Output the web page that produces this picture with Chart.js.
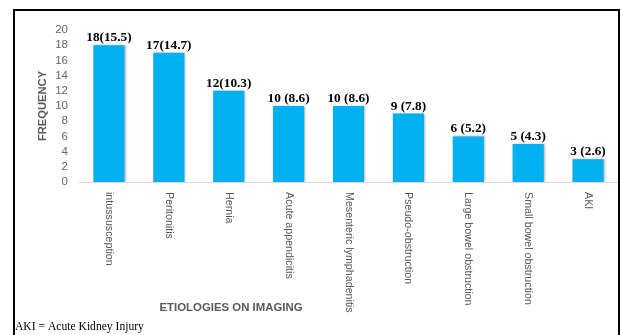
<!DOCTYPE html>
<html>
<head>
<meta charset="utf-8">
<script src="https://cdn.jsdelivr.net/npm/chart.js@4.4.1/dist/chart.umd.min.js"></script>
<style>
html,body{margin:0;padding:0;background:#fff;}
#wrap{width:621px;height:335px;position:relative;}
</style>
</head>
<body>
<div id="wrap"><canvas id="c" width="621" height="335"></canvas></div>
<script>
const categories = ['intussusception','Peritonitis','Hernia','Acute appendicitis','Mesenteric lymphadenitis','Pseudo-obstruction','Large bowel obstruction','Small bowel obstruction','AKI'];
const frequencies = [18,17,12,10,10,9,6,5,3];
const valueLabels = ['18(15.5)','17(14.7)','12(10.3)','10 (8.6)','10 (8.6)','9 (7.8)','6 (5.2)','5 (4.3)','3 (2.6)'];
const yMin = 0, yMax = 20, yStep = 2;
const yTitle = 'FREQUENCY';
const xTitle = 'ETIOLOGIES ON IMAGING';
const footnote = 'AKI = Acute Kidney Injury';

const decor = {
  id: 'decor',
  beforeDraw(chart) {
    const ctx = chart.ctx;
    ctx.save();
    ctx.fillStyle = '#fff';
    ctx.fillRect(0, 0, chart.width, chart.height);
    ctx.restore();
  },
  beforeDatasetDraw(chart) {
    const ctx = chart.ctx;
    ctx.save();
    ctx.shadowColor = 'rgba(0,0,0,0.28)';
    ctx.shadowBlur = 2;
    ctx.shadowOffsetX = 1;
    ctx.shadowOffsetY = 0;
  },
  afterDatasetDraw(chart) {
    chart.ctx.restore();
  },
  afterDraw(chart) {
    const ctx = chart.ctx;
    const xs = chart.scales.x, ys = chart.scales.y;
    const area = chart.chartArea;
    ctx.save();
    // value labels
    ctx.fillStyle = '#000';
    ctx.font = 'bold 13.3px "Liberation Serif", "Times New Roman", serif';
    ctx.textAlign = 'center';
    ctx.textBaseline = 'alphabetic';
    frequencies.forEach((v, i) => {
      ctx.fillText(valueLabels[i], xs.getPixelForValue(i), ys.getPixelForValue(v) - 4);
    });
    // category labels, rotated clockwise
    ctx.fillStyle = '#595959';
    ctx.font = '10.7px "Liberation Sans", Arial, sans-serif';
    ctx.textAlign = 'left';
    ctx.textBaseline = 'middle';
    categories.forEach((c, i) => {
      ctx.save();
      ctx.translate(xs.getPixelForValue(i), area.bottom + 10);
      ctx.rotate(Math.PI / 2);
      ctx.fillText(c, 0, 0);
      ctx.restore();
    });
    // x title
    ctx.font = 'bold 11.4px "Liberation Sans", Arial, sans-serif';
    ctx.textAlign = 'center';
    ctx.fillText(xTitle, 231, 308);
    // footnote
    ctx.fillStyle = '#000';
    ctx.font = '11.6px "Liberation Serif", "Times New Roman", serif';
    ctx.textAlign = 'left';
    ctx.fillText(footnote, 15, 327);
    // border
    ctx.strokeStyle = '#000';
    ctx.lineWidth = 2;
    ctx.strokeRect(14, 10, 605, 340);
    ctx.restore();
  }
};

new Chart(document.getElementById('c'), {
  type: 'bar',
  data: {
    labels: categories,
    datasets: [{
      data: frequencies,
      backgroundColor: '#00b0f0',
      borderWidth: 0,
      barPercentage: 0.52,
      categoryPercentage: 1.0
    }]
  },
  options: {
    responsive: false,
    animation: false,
    devicePixelRatio: 1,
    layout: { padding: { left: 32, top: 30, right: 3, bottom: 153 } },
    plugins: { legend: { display: false }, tooltip: { enabled: false } },
    scales: {
      x: {
        grid: { display: false, drawTicks: false },
        border: { display: true, color: '#d9d9d9', width: 1 },
        ticks: { display: false },
        afterFit(s) { s.height = 0; }
      },
      y: {
        min: yMin, max: yMax,
        grid: { display: false, drawTicks: false },
        border: { display: false },
        ticks: {
          stepSize: yStep,
          autoSkip: false,
          padding: 11,
          color: '#666',
          font: { family: '"Liberation Sans", Arial, sans-serif', size: 11.5 }
        },
        title: {
          display: true,
          text: yTitle,
          color: '#595959',
          font: { family: '"Liberation Sans", Arial, sans-serif', size: 11.2, weight: 'bold' }
        },
        afterFit(s) { s.width = 47; }
      }
    }
  },
  plugins: [decor]
});
</script>
</body>
</html>
